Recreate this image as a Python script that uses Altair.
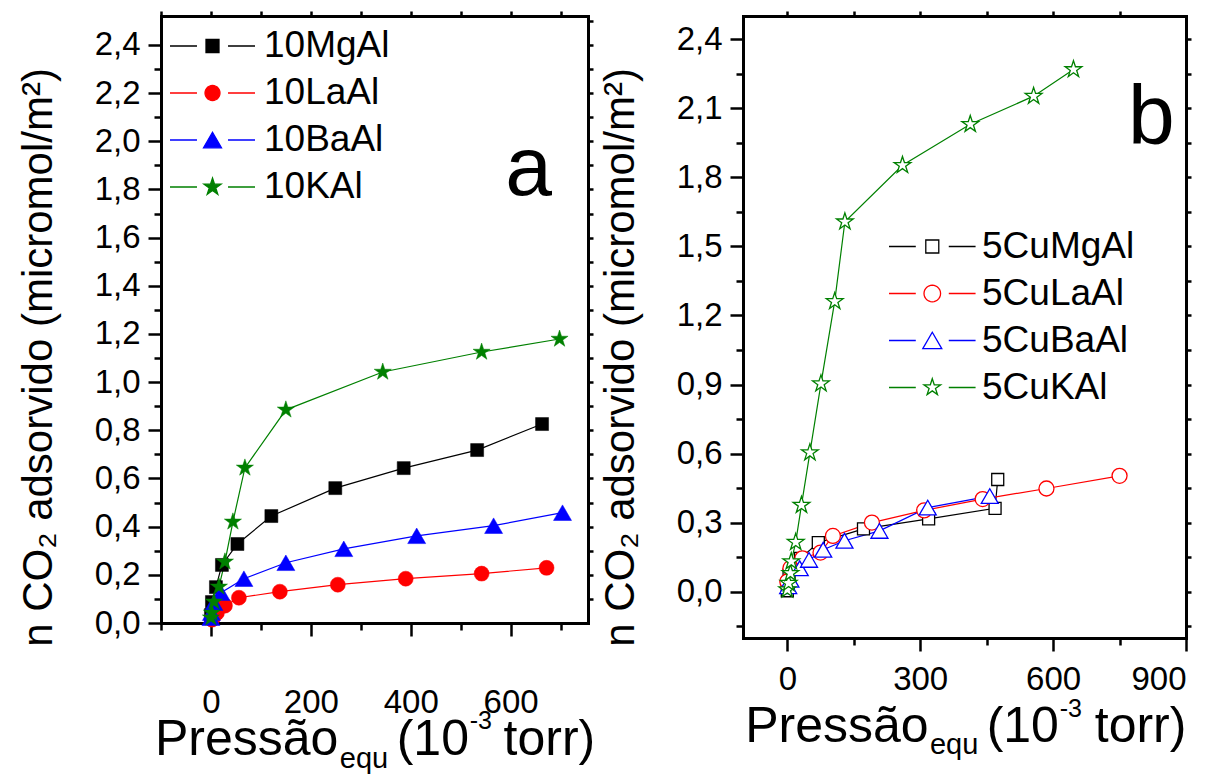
import math
import altair as alt
import pandas as pd

FONT = "Liberation Sans, Arial, Helvetica, sans-serif"
NBSP = "\u00a0"

# ---------------- panel a data ----------------
names_a = ["10MgAl", "10LaAl", "10BaAl", "10KAl"]
mg_a_x = [0, 2, 10, 22, 53, 121, 249, 386, 533, 663]
mg_a_y = [0.033, 0.087, 0.149, 0.241, 0.328, 0.444, 0.560, 0.643, 0.718, 0.826]
la_a_x = [2, 4, 12, 28, 56, 138, 254, 390, 542, 672]
la_a_y = [0.014, 0.022, 0.042, 0.072, 0.105, 0.130, 0.159, 0.184, 0.205, 0.229]
ba_a_x = [0, 1, 6, 20, 66, 150, 266, 412, 566, 704]
ba_a_y = [0.022, 0.043, 0.084, 0.126, 0.184, 0.250, 0.308, 0.362, 0.404, 0.458]
k_a_x = [0, 2, 6, 16, 28, 44, 68, 150, 344, 542, 698]
k_a_y = [0.022, 0.042, 0.088, 0.150, 0.254, 0.420, 0.644, 0.885, 1.042, 1.125, 1.179]

# ---------------- panel b data ----------------
# (legend text of the last three entries starts with a space in the original)
names_b = ["5CuMgAl", NBSP + "5CuLaAl", NBSP + "5CuBaAl", NBSP + "5CuKAl"]
mg_b_x = [0, 2, 4, 30, 70, 172, 319, 469, 475]
mg_b_y = [0.005, 0.040, 0.074, 0.146, 0.214, 0.274, 0.317, 0.363, 0.488]
la_b_x = [0, 7, 34, 75, 103, 191, 309, 441, 585, 750]
la_b_y = [0.045, 0.103, 0.146, 0.171, 0.243, 0.301, 0.354, 0.403, 0.449, 0.504]
ba_b_x = [2, 7, 28, 49, 81, 129, 208, 317, 457]
ba_b_y = [0.025, 0.053, 0.103, 0.139, 0.183, 0.222, 0.265, 0.366, 0.416]
k_b_x = [0, 3, 7, 9, 19, 32, 51, 76, 107, 130, 260, 413, 556, 646]
k_b_y = [0.010, 0.038, 0.081, 0.132, 0.216, 0.377, 0.605, 0.904, 1.261, 1.607, 1.852, 2.030, 2.152, 2.268]

# ---------------- tick values ----------------
xa_major = [0, 200, 400, 600]
xa_minor = [-100, 100, 300, 500, 700]
ya_major = [0.0, 0.2, 0.4, 0.6, 0.8, 1.0, 1.2, 1.4, 1.6, 1.8, 2.0, 2.2, 2.4]
ya_minor = [0.1, 0.3, 0.5, 0.7, 0.9, 1.1, 1.3, 1.5, 1.7, 1.9, 2.1, 2.3]
xb_major = [0, 300, 600, 900]
xb_minor = [150, 450, 750]
yb_major = [0.0, 0.3, 0.6, 0.9, 1.2, 1.5, 1.8, 2.1, 2.4]
yb_minor = [-0.15, 0.15, 0.45, 0.75, 1.05, 1.35, 1.65, 1.95, 2.25]
xa_top = [-100, 0, 100, 200, 300, 400, 500, 600, 700]
ya_right = [0.1, 0.2, 0.3, 0.4, 0.5, 0.6, 0.7, 0.8, 0.9, 1.0, 1.1, 1.2, 1.3,
            1.4, 1.5, 1.6, 1.7, 1.8, 1.9, 2.0, 2.1, 2.2, 2.3, 2.4, 2.5]
xb_top = [0, 150, 300, 450, 600, 750]
yb_right = [-0.15, 0.0, 0.15, 0.3, 0.45, 0.6, 0.75, 0.9, 1.05, 1.2, 1.35, 1.5,
            1.65, 1.8, 1.95, 2.1, 2.25, 2.4]

# ---------------- annotation texts ----------------
ytitle = "n CO\u2082 adsorvido (micromol/m\u00b2)"
xt_big_text = ["Pressão", "(10", "torr)"]
xt_sub_text = ["equ"]
xt_sup_text = ["-3"]
# anchors in data units
xt_a_big_x = [-112, 372, 586]
xt_a_big_y = [-0.547, -0.547, -0.547]
xt_a_sub_x = [258]
xt_a_sub_y = [-0.600]
xt_a_sup_x = [518]
xt_a_sup_y = [-0.440]
xt_b_big_x = [-95, 450, 694]
xt_b_big_y = [-0.650, -0.650, -0.650]
xt_b_sub_x = [322]
xt_b_sub_y = [-0.705]
xt_b_sup_x = [615]
xt_b_sup_y = [-0.545]
panel_a_label = ["a"]
panel_a_label_x = [636]
panel_a_label_y = [1.777]
panel_b_label = ["b"]
panel_b_label_x = [822]
panel_b_label_y = [1.943]

colors = ["#000000", "#ff0000", "#0000ff", "#008000"]


def series_df(names, xs_list, ys_list):
    rows = []
    for name, xs, ys in zip(names, xs_list, ys_list):
        for i, (x, y) in enumerate(zip(xs, ys)):
            rows.append({"series": name, "i": i, "x": x, "y": y})
    return pd.DataFrame(rows)


def poly(pts):
    return "M" + "L".join(f"{x:.4f},{y:.4f}" for x, y in pts) + "Z"


def star_path(R, cx=0.0, ratio=0.382):
    pts = []
    for k in range(10):
        ang = math.radians(-90 + 36 * k)
        rr = R if k % 2 == 0 else R * ratio
        pts.append((cx + rr * math.cos(ang), rr * math.sin(ang)))
    return poly(pts)


def square_path(s, cx=0.0):
    return poly([(cx - s, -s), (cx + s, -s), (cx + s, s), (cx - s, s)])


def circle_path(r, cx=0.0, n=28):
    return poly([(cx + r * math.cos(2 * math.pi * k / n), r * math.sin(2 * math.pi * k / n))
                 for k in range(n)])


def tri_path(r, cx=0.0):
    h = 0.866 * r
    return poly([(cx, -h), (cx + r, h), (cx - r, h)])


def legend_symbol(sym, c, g, L):
    # line - symbol - line, symbol centred at c (units of sqrt(size)/2)
    return f"M{c - L:.4f},0L{c - g:.4f},0M{c + g:.4f},0L{c + L:.4f},0" + sym


def text_df(texts, xs, ys):
    return pd.DataFrame({"t": texts, "x": xs, "y": ys})


def text_layer(d, xs, ys, size, align="left"):
    return alt.Chart(d).mark_text(font=FONT, fontSize=size, align=align,
                                  baseline="alphabetic", color="black").encode(
        x=alt.X("x:Q", scale=xs, axis=None), y=alt.Y("y:Q", scale=ys, axis=None), text="t:N")


def make_panel(df, names, filled, shapes, sizes, xdom, ydom, w, h,
               x_major, x_minor, y_major, y_minor, x_top, y_right,
               x_label_pad, ytitle_x, ytitle_y,
               legend_layer, big_df, sub_df, sup_df, lab_df):
    xs = alt.Scale(domain=xdom, nice=False, zero=False)
    ys = alt.Scale(domain=ydom, nice=False, zero=False)

    axis_common = dict(tickColor="black", tickWidth=2.5, grid=False,
                       domainColor="black", domainWidth=3, domainCap="square")

    x_main = alt.Axis(orient="bottom", values=x_major, format="d", tickSize=13,
                      labelFont=FONT, labelFontSize=33, labelColor="black",
                      labelPadding=x_label_pad, title=None, **axis_common)
    y_main = alt.Axis(orient="left", values=y_major,
                      labelExpr="replace(format(datum.value, '.1f'), '.', ',')",
                      tickSize=13, labelFont=FONT, labelFontSize=33,
                      labelColor="black", labelPadding=8, labelFlush=False,
                      labelOverlap=False,
                      title=ytitle, titleFont=FONT, titleFontSize=42,
                      titleFontWeight="normal", titleColor="black",
                      titleX=ytitle_x, titleY=ytitle_y, titleBaseline="alphabetic",
                      **axis_common)
    x_min = alt.Axis(orient="bottom", values=x_minor, tickSize=7, labels=False,
                     domain=False, title=None, tickColor="black", tickWidth=2.5, grid=False)
    y_min = alt.Axis(orient="left", values=y_minor, tickSize=7, labels=False,
                     domain=False, title=None, tickColor="black", tickWidth=2.5, grid=False)
    x_mir = alt.Axis(orient="top", values=x_top, tickSize=5, labels=False,
                     title=None, **axis_common)
    y_mir = alt.Axis(orient="right", values=y_right, tickSize=5, labels=False,
                     title=None, **axis_common)

    frame = alt.Chart(df).mark_point(opacity=0).encode(
        x=alt.X("x:Q", scale=xs, axis=x_main),
        y=alt.Y("y:Q", scale=ys, axis=y_main),
    )
    minor = alt.Chart(df).mark_point(opacity=0).encode(
        x=alt.X("x:Q", scale=xs, axis=x_min),
        y=alt.Y("y:Q", scale=ys, axis=y_min),
    )
    mirror = alt.Chart(df).mark_point(opacity=0).encode(
        x=alt.X("x:Q", scale=xs, axis=x_mir),
        y=alt.Y("y:Q", scale=ys, axis=y_mir),
    )

    data_layers = []
    for name, col in zip(names, colors):
        data_layers.append(
            alt.Chart(df).transform_filter(alt.datum.series == name)
            .mark_line(strokeWidth=1.2, color=col).encode(
                x=alt.X("x:Q", scale=xs, axis=None),
                y=alt.Y("y:Q", scale=ys, axis=None),
                order=alt.Order("i:Q"),
            )
        )
    for name, col, shp, sz in zip(names, colors, shapes, sizes):
        if filled:
            mk = alt.Chart(df).mark_point(shape=shp, size=sz, fill=col, stroke=col,
                                          strokeWidth=0.5, opacity=1)
        else:
            mk = alt.Chart(df).mark_point(shape=shp, size=sz, fill="white", stroke=col,
                                          strokeWidth=1.3, opacity=1)
        data_layers.append(
            mk.transform_filter(alt.datum.series == name).encode(
                x=alt.X("x:Q", scale=xs, axis=None),
                y=alt.Y("y:Q", scale=ys, axis=None),
            )
        )

    leg = legend_layer(xs, ys)

    big = text_layer(big_df, xs, ys, 50)
    sub = text_layer(sub_df, xs, ys, 29)
    sup = text_layer(sup_df, xs, ys, 25)
    lab = text_layer(lab_df, xs, ys, 84, align="center")

    return alt.layer(frame, *data_layers, minor, mirror, leg, big, sub, sup, lab).resolve_axis(
        x="independent", y="independent").properties(width=w, height=h)


df_a = series_df(names_a, [mg_a_x, la_a_x, ba_a_x, k_a_x], [mg_a_y, la_a_y, ba_a_y, k_a_y])
df_b = series_df(names_b, [mg_b_x, la_b_x, ba_b_x, k_b_x], [mg_b_y, la_b_y, ba_b_y, k_b_y])

STAR = star_path(1.0)
shapes = ["square", "circle", "triangle-up", STAR]

# legend symbols: size 3136 -> 28 px per path unit
LEG_SIZE = 3136
ca, ga, La = 0.518, 0.554, 1.518
leg_paths_a = [
    legend_symbol(square_path(0.232, ca), ca, ga, La),
    legend_symbol(circle_path(0.268, ca), ca, ga, La),
    legend_symbol(tri_path(0.321, ca), ca, ga, La),
    legend_symbol(star_path(0.321, ca), ca, ga, La),
]
cb, gb, Lb = 0.546, 0.589, 1.546
leg_paths_b = [
    legend_symbol(square_path(0.232, cb), cb, gb, Lb),
    legend_symbol(circle_path(0.296, cb), cb, gb, Lb),
    legend_symbol(tri_path(0.339, cb), cb, gb, Lb),
    legend_symbol(star_path(0.314, cb), cb, gb, Lb),
]


def legend_layer_a(xs, ys):
    kw = dict(orient="none", legendX=8, legendY=1, title=None,
              symbolSize=LEG_SIZE, symbolStrokeWidth=1.3,
              labelFont=FONT, labelFontSize=37, labelColor="black",
              labelOffset=37, rowPadding=0, padding=0)
    return alt.Chart(df_a).mark_point(opacity=1, clip=True).encode(
        x=alt.X("xo:Q", scale=xs, axis=None),
        y=alt.Y("yo:Q", scale=ys, axis=None),
        fill=alt.Fill("series:N", scale=alt.Scale(domain=names_a, range=colors),
                      legend=alt.Legend(**kw)),
        stroke=alt.Stroke("series:N", scale=alt.Scale(domain=names_a, range=colors),
                          legend=alt.Legend(**kw)),
        shape=alt.Shape("series:N", scale=alt.Scale(domain=names_a, range=leg_paths_a),
                        legend=alt.Legend(**kw)),
    ).transform_calculate(xo="-1e7", yo="-1e7")


def legend_layer_b(xs, ys):
    kw = dict(orient="none", legendX=145, legendY=201.5, title=None,
              symbolSize=LEG_SIZE, symbolStrokeWidth=1.3,
              labelFont=FONT, labelFontSize=37, labelColor="black",
              labelOffset=36, rowPadding=0, padding=0)
    return alt.Chart(df_b).mark_point(opacity=1, filled=False, clip=True).encode(
        x=alt.X("xo:Q", scale=xs, axis=None),
        y=alt.Y("yo:Q", scale=ys, axis=None),
        color=alt.Color("series:N", scale=alt.Scale(domain=names_b, range=colors),
                        legend=alt.Legend(**kw)),
        shape=alt.Shape("series:N", scale=alt.Scale(domain=names_b, range=leg_paths_b),
                        legend=alt.Legend(**kw)),
    ).transform_calculate(xo="-1e7", yo="-1e7")


panel_a = make_panel(
    df_a, names_a, True, shapes, [169, 225, 324, 324],
    [-100, 755], [0, 2.52], 427, 607,
    xa_major, xa_minor, ya_major, ya_minor, xa_top, ya_right,
    50, -110, 341,
    legend_layer_a,
    text_df(xt_big_text, xt_a_big_x, xt_a_big_y),
    text_df(xt_sub_text, xt_a_sub_x, xt_a_sub_y),
    text_df(xt_sup_text, xt_a_sup_x, xt_a_sup_y),
    text_df(panel_a_label, panel_a_label_x, panel_a_label_y),
)

panel_b = make_panel(
    df_b, names_b, False, shapes, [144, 225, 289, 310],
    [-100, 900], [-0.2, 2.5], 443, 622,
    xb_major, xb_minor, yb_major, yb_minor, xb_top, yb_right,
    12, -110, 341,
    legend_layer_b,
    text_df(xt_big_text, xt_b_big_x, xt_b_big_y),
    text_df(xt_sub_text, xt_b_sub_x, xt_b_sub_y),
    text_df(xt_sup_text, xt_b_sup_x, xt_b_sup_y),
    text_df(panel_b_label, panel_b_label_x, panel_b_label_y),
)

chart = alt.hconcat(panel_a, panel_b, spacing=3).resolve_scale(
    color="independent", fill="independent", stroke="independent", shape="independent"
).resolve_legend(
    color="independent", fill="independent", stroke="independent", shape="independent"
).properties(
    padding={"left": 9, "top": 1, "right": 0, "bottom": 0},
    background="white",
).configure_view(stroke=None)

chart.save("out.html", embed_options={"renderer": "svg", "actions": False})
